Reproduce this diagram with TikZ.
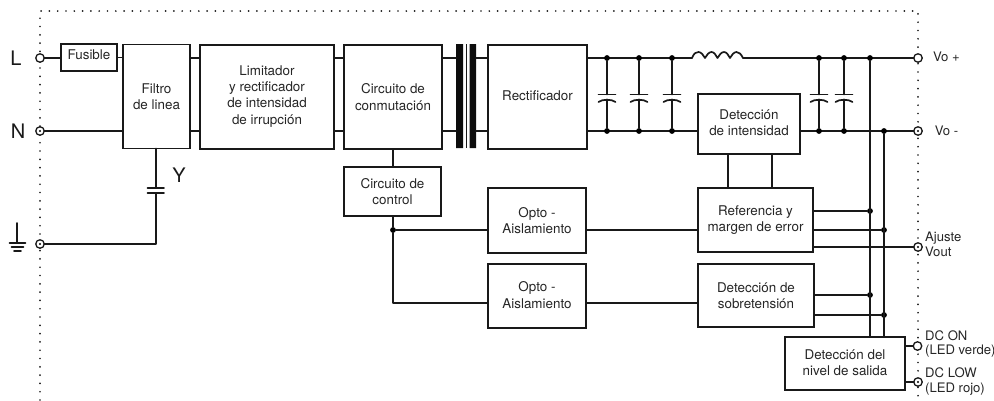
\documentclass[tikz,border=0pt]{standalone}
\usepackage{fontspec}
\setmainfont{TeX Gyre Heros}
\newcommand{\deep}[1]{\rule[-#1pt]{0pt}{#1pt}}
\tikzset{
  wire/.style={line width=1.7pt,line cap=round,line join=round,draw=black!90},
  box/.style={draw=black!90,line width=1.8pt,rectangle,outer sep=0pt,inner sep=0pt,align=center,font=\fontsize{13.4}{16.2}\selectfont,text=black!85},
  termbase/.style={circle,draw=black!90,fill=white,line width=1.3pt,minimum size=8.5pt,inner sep=0pt,outer sep=0pt},
  term/.style={termbase},
  termd/.style={termbase,path picture={\fill[black] (path picture bounding box.center) circle (1.1pt);}},
  dot/.style={circle,fill=black,minimum size=5.8pt,inner sep=0pt,outer sep=0pt},
  lbl/.style={font=\fontsize{13.1}{14}\selectfont,text=black!85,inner sep=0pt,align=left},
  big/.style={font=\fontsize{20}{20}\selectfont,text=black!90,inner sep=0pt},
  border/.style={line width=1.9pt,line cap=round,dash pattern=on 0pt off 8.3pt,draw=black!90},
}
\begin{document}
\begin{tikzpicture}[x=1pt,y=-1pt]
\useasboundingbox (0,0) rectangle (994,400);
\fill[white] (0,0) rectangle (994,400);
% border
\draw[border] (40,400) -- (40,11) -- (918,11) -- (918,400);
% boxes
\node[box,minimum width=56pt,minimum height=27pt] (fus) at (89,57.5) {Fusible\deep{5}};
\node[box,minimum width=67pt,minimum height=104pt] (filt) at (156.5,96.5) {Filtro\\de linea};
\node[box,minimum width=134pt,minimum height=104pt] (lim) at (267,97) {Limitador\\y rectificador\\de intensidad\\de irrupción\deep{4}};
\node[box,minimum width=98pt,minimum height=104pt] (con) at (393,97) {Circuito de\\conmutación};
\node[box,minimum width=99pt,minimum height=104pt] (rec) at (537.5,97) {Rectificador\deep{3}};
\node[box,minimum width=102pt,minimum height=60pt] (int) at (749,124) {Detección\\de intensidad\deep{2}};
\node[box,minimum width=115pt,minimum height=64pt] (ref) at (755.5,220) {Referencia y\\margen de error};
\node[box,minimum width=116pt,minimum height=63pt] (sob) at (756,295.5) {Detección de\\sobretensión};
\node[box,minimum width=120pt,minimum height=53pt] (niv) at (845,363.5) {Detección del\\nivel de salida\deep{1}};
\node[box,minimum width=97pt,minimum height=49pt] (ctl) at (392.5,191.5) {Circuito de\\control};
\node[box,minimum width=98pt,minimum height=65pt] (op1) at (537,220.5) {Opto -\\Aislamiento};
\node[box,minimum width=98pt,minimum height=64pt] (op2) at (537,296) {Opto -\\Aislamiento\deep{2}};
% transformer
\fill[black!95] (456,44) rectangle (463,148) (469.5,44) rectangle (476,148);
\draw[line width=1.7pt,draw=black!90] (466.5,44) -- (466.5,148);
% terminals
\node[term] (tL) at (40,58) {};
\node[termd] (tN) at (40,131) {};
\node[termd] (tG) at (40,244) {};
\node[term] (tVp) at (918,58) {};
\node[termd] (tVm) at (918,131) {};
\node[termd] (tAj) at (918,247) {};
\node[term] (tOn) at (917.5,346) {};
\node[termd] (tLow) at (918,382) {};
% input wires
\draw[wire] (tL.east) -- (tL -| fus.west);
\draw[wire] (fus.east) -- (fus -| filt.west);
\draw[wire] (tN.east) -- (tN -| filt.west);
\draw[wire] (filt.east |- tL) -- (lim.west |- tL);
\draw[wire] (filt.east |- tN) -- (lim.west |- tN);
\draw[wire] (lim.east |- tL) -- (con.west |- tL);
\draw[wire] (lim.east |- tN) -- (con.west |- tN);
\coordinate (xa) at (456,58);
\coordinate (xb) at (456,131);
\coordinate (xc) at (476,58);
\coordinate (xd) at (476,131);
\draw[wire] (con.east |- tL) -- (xa);
\draw[wire] (con.east |- tN) -- (xb);
\draw[wire] (xc) -- (rec.west |- tL);
\draw[wire] (xd) -- (rec.west |- tN);
% Y capacitor
\coordinate (yt) at (156,188);
\coordinate (yb) at (156,193);
\draw[wire] (filt.south -| yt) -- (yt);
\draw[wire] (147.5,188) -- (164,188);
\draw[wire] (147.5,193) -- (164,193);
\draw[wire] (yb) -- (yb |- tG) -- (tG.east);
\node[big] (yl) at (179,175) {Y};
\node[big] (lL) at (16,58) {L};
\node[big] (lN) at (18,131) {N};
% ground
\draw[wire] (17,223) -- (17,243);
\draw[wire] (9.5,243) -- (25.5,243);
\draw[wire] (11.5,247) -- (23.5,247);
\draw[wire] (14,251) -- (21,251);
% output rail
\coordinate (ls) at (692,58);
\coordinate (le) at (743,58);
\draw[wire] (rec.east |- tL) -- (ls);
\draw[wire] (ls) .. controls (694,53) and (696,52) .. (698.5,52) .. controls (701,52) and (703.5,55) .. (705,58)
 .. controls (706.5,55) and (709,52) .. (711.5,52) .. controls (714,52) and (716,55) .. (717.5,58)
 .. controls (719,55) and (721.5,52) .. (724,52) .. controls (726.5,52) and (728.5,55) .. (730,58)
 .. controls (731.5,55) and (734,52) .. (736.5,52) .. controls (739,52) and (741,54) .. (le);
\draw[wire] (le) -- (tVp.west);
\draw[wire] (rec.east |- tN) -- (tN -| int.west);
\draw[wire] (tN -| int.east) -- (tVm.west);
% output capacitors
\foreach \n/\x in {a/607,b/639,c/672,d/819,e/844}{
  \node[dot] (t\n) at (\x,58) {};
  \node[dot] (b\n) at (\x,131) {};
  \draw[wire] (t\n) -- (\x,94.5);
  \draw[wire] (\x-8.5,94.5) -- (\x+8.5,94.5);
  \draw[wire] (\x-8.5,102) .. controls (\x-5,99) and (\x+5,99) .. (\x+8.5,102);
  \draw[wire] (\x,99.5) -- (b\n);
}
% feedback rails
\node[dot] (r1) at (870,58) {};
\node[dot] (r2) at (884,131) {};
\node[dot] (j1) at (870,211) {};
\node[dot] (j2) at (884,230) {};
\node[dot] (j3) at (870,295) {};
\node[dot] (j4) at (884,315) {};
\draw[wire] (r1) -- (r1 |- niv.north);
\draw[wire] (r2) -- (r2 |- niv.north);
\draw[wire] (ref.east |- j1) -- (j1);
\draw[wire] (ref.east |- j2) -- (j2);
\draw[wire] (ref.east |- tAj) -- (tAj.west);
\draw[wire] (sob.east |- j3) -- (j3);
\draw[wire] (sob.east |- j4) -- (j4);
\draw[wire] (niv.east |- tOn) -- (tOn.west);
\draw[wire] (niv.east |- tLow) -- (tLow.west);
% sense
\coordinate (s1) at (728,154);
\coordinate (s2) at (772,154);
\draw[wire] (s1) -- (s1 |- ref.north);
\draw[wire] (s2) -- (s2 |- ref.north);
% control
\node[dot] (jc) at (393,230) {};
\coordinate (w2) at (393,303);
\draw[wire] (con.south -| jc) -- (ctl.north -| jc);
\draw[wire] (ctl.south -| jc) -- (jc);
\draw[wire] (jc) -- (jc -| op1.west);
\draw[wire] (jc) -- (w2) -- (w2 -| op2.west);
\draw[wire] (jc -| op1.east) -- (jc -| ref.west);
\draw[wire] (w2 -| op2.east) -- (w2 -| sob.west);
% labels
\node[lbl] (vp) at (946.5,57) {Vo +};
\node[lbl] (vm) at (946.5,131) {Vo -};
\node[lbl,anchor=west] (aj) at (925,238) {Ajuste};
\node[lbl,anchor=west] (vo) at (925,252) {Vout};
\node[lbl,anchor=west] (on) at (925,335.5) {DC ON};
\node[lbl,anchor=west] (on2) at (925,351.5) {(LED verde)};
\node[lbl,anchor=west] (lo) at (925,372.5) {DC LOW};
\node[lbl,anchor=west] (lo2) at (925,389) {(LED rojo)};
\end{tikzpicture}
\end{document}
